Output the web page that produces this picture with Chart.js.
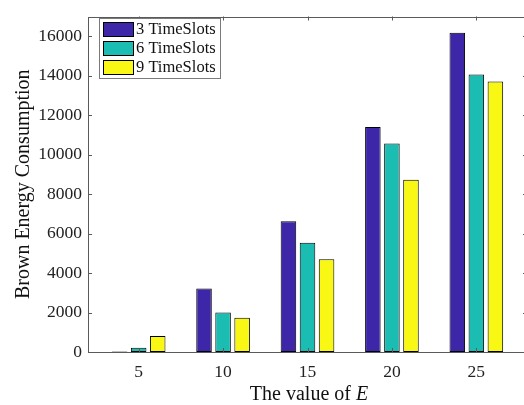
<!DOCTYPE html>
<html>
<head>
<meta charset="utf-8">
<script src="https://cdn.jsdelivr.net/npm/chart.js@4"></script>
<style>
html,body{margin:0;padding:0;background:#fff;overflow:hidden;width:524px;height:405px;}
#wrap{width:532px;height:405px;}
</style>
</head>
<body>
<div id="wrap"><canvas id="c" width="532" height="405"></canvas></div>
<script>
const eValues = [5, 10, 15, 20, 25];
const seriesNames = ['3 TimeSlots', '6 TimeSlots', '9 TimeSlots'];
const slots3 = [20, 3220, 6620, 11400, 16180];
const slots6 = [210, 2000, 5530, 10560, 14060];
const slots9 = [810, 1740, 4700, 8730, 13710];
const yTicks = [0, 2000, 4000, 6000, 8000, 10000, 12000, 14000, 16000];
const colors = ['#3e26a8', '#1bbdb3', '#f8f814'];

const FONT = "'Liberation Serif', 'Times New Roman', serif";
const AXIS = '#5a5a5a';

function mk(vals){ return eValues.map((e,i)=>({x:e, y:vals[i]})); }

const boxPlugin = {
  id: 'box',
  afterDatasetsDraw(chart){
    const {ctx, chartArea:a, scales} = chart;
    ctx.save();
    ctx.strokeStyle = AXIS;
    ctx.lineWidth = 1;
    ctx.beginPath();
    ctx.moveTo(Math.round(a.left)+0.5, a.top+0.5);
    ctx.lineTo(Math.round(a.left)+0.5, Math.round(a.bottom)+0.5);
    ctx.lineTo(a.right, Math.round(a.bottom)+0.5);
    ctx.moveTo(Math.round(a.left)+0.5, Math.round(a.top)+0.5);
    ctx.lineTo(a.right, Math.round(a.top)+0.5);
    ctx.lineTo(a.right, a.bottom);
    const tl = 4;
    scales.x.ticks.forEach(t=>{
      const px = Math.round(scales.x.getPixelForValue(t.value))+0.5;
      ctx.moveTo(px, a.bottom); ctx.lineTo(px, a.bottom-tl);
      ctx.moveTo(px, a.top); ctx.lineTo(px, a.top+tl);
    });
    scales.y.ticks.forEach(t=>{
      const py = Math.round(scales.y.getPixelForValue(t.value))+0.5;
      ctx.moveTo(a.left, py); ctx.lineTo(a.left+tl, py);
      ctx.moveTo(a.right, py); ctx.lineTo(a.right-tl, py);
    });
    ctx.stroke();
    ctx.restore();
  },
  afterDraw(chart){
    const {ctx, chartArea:a} = chart;
    ctx.save();
    // legend
    const lx = 99, ly = 18, lw = 121, lh = 60;
    ctx.fillStyle = '#fff';
    ctx.fillRect(lx, ly, lw, lh);
    ctx.strokeStyle = '#7a7a7a';
    ctx.lineWidth = 1;
    ctx.strokeRect(lx+0.5, ly+0.5, lw, lh);
    chart.data.datasets.forEach((ds,i)=>{
      const sy = 22 + i*19;
      ctx.fillStyle = ds.backgroundColor;
      ctx.fillRect(103, sy, 30, 14);
      ctx.strokeStyle = '#000';
      ctx.strokeRect(103.5, sy+0.5, 30, 14);
      ctx.fillStyle = '#111';
      ctx.font = '16.5px ' + FONT;
      ctx.textBaseline = 'middle';
      ctx.textAlign = 'left';
      ctx.fillText(ds.label, 136, sy+8);
    });
    // y title
    ctx.fillStyle = '#111';
    ctx.font = '20px ' + FONT;
    ctx.translate(24, (a.top+a.bottom)/2);
    ctx.rotate(-Math.PI/2);
    ctx.textAlign = 'center';
    ctx.textBaseline = 'middle';
    ctx.fillText('Brown Energy Consumption', 0, 0);
    ctx.restore();
    // x title
    ctx.save();
    ctx.fillStyle = '#111';
    ctx.textBaseline = 'alphabetic';
    const t1 = 'The value of ', t2 = 'E';
    ctx.font = '20px ' + FONT;
    const w1 = ctx.measureText(t1).width;
    ctx.font = 'italic 20px ' + FONT;
    const w2 = ctx.measureText(t2).width;
    let x0 = 309 - (w1+w2)/2;
    ctx.font = '20px ' + FONT;
    ctx.fillText(t1, x0, 400);
    ctx.font = 'italic 20px ' + FONT;
    ctx.fillText(t2, x0+w1, 400);
    ctx.restore();
  }
};

new Chart(document.getElementById('c'), {
  type: 'bar',
  data: {
    datasets: [
      {label: seriesNames[0], data: mk(slots3), backgroundColor: colors[0]},
      {label: seriesNames[1], data: mk(slots6), backgroundColor: colors[1]},
      {label: seriesNames[2], data: mk(slots9), backgroundColor: colors[2]}
    ]
  },
  options: {
    responsive: false,
    animation: false,
    events: [],
    layout: {padding: {left: 0, top: 8, right: 5, bottom: 0}},
    datasets: {bar: {
      categoryPercentage: 0.677,
      barPercentage: 0.816,
      borderColor: '#000',
      borderWidth: 1,
      borderSkipped: false
    }},
    plugins: {legend: {display: false}, tooltip: {enabled: false}},
    scales: {
      x: {
        type: 'linear', min: 2, max: 28, offset: false,
        grid: {display: false, drawTicks: false},
        border: {display: false},
        afterBuildTicks: s => { s.ticks = eValues.map(v=>({value: v})); },
        afterFit: s => { s.height = 53; },
        ticks: {padding: 10, color: '#222', font: {family: FONT, size: 17.5}, maxRotation: 0,
                callback: v => String(v)}
      },
      y: {
        min: 0, max: 17000,
        grid: {display: false, drawTicks: false},
        border: {display: false},
        afterBuildTicks: s => { s.ticks = yTicks.map(v=>({value: v})); },
        afterFit: s => { s.width = 88; },
        ticks: {padding: 6, color: '#222', font: {family: FONT, size: 17.5},
                callback: v => String(v)}
      }
    }
  },
  plugins: [boxPlugin]
});
</script>
</body>
</html>
